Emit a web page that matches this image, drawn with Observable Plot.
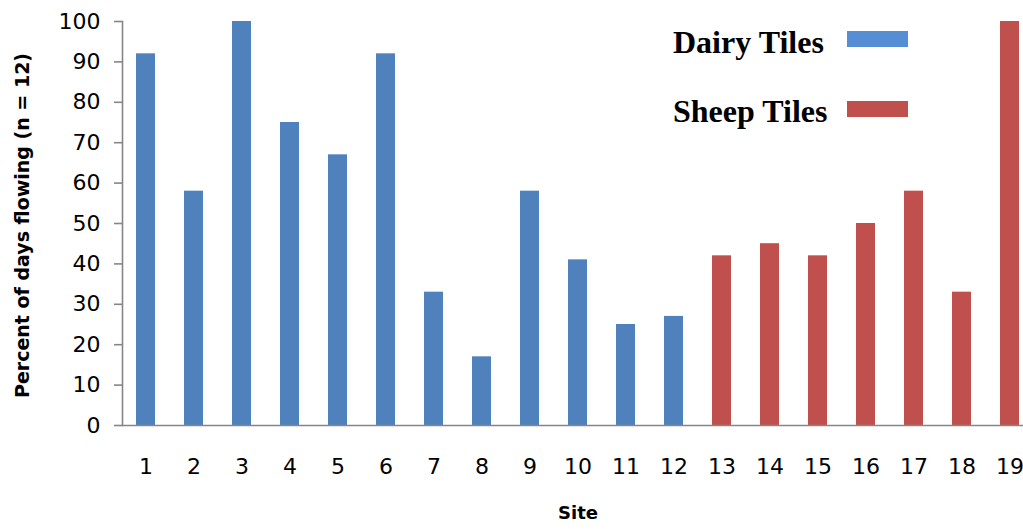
<!DOCTYPE html>
<html><head><meta charset="utf-8">
<script src="https://cdn.jsdelivr.net/npm/d3@7"></script>
<script src="https://cdn.jsdelivr.net/npm/@observablehq/plot@0.6"></script>
<style>
body{margin:0;background:#fff;}
#wrap{position:relative;width:1023px;height:531px;overflow:hidden;}
.leg{position:absolute;left:673px;font:bold 32px "Liberation Serif","Times New Roman",serif;line-height:32px;color:#000;white-space:nowrap;}
.sw{position:absolute;left:847px;width:61px;height:16px;}
</style></head><body><div id="wrap"></div>
<script>
const sites = ["1","2","3","4","5","6","7","8","9","10","11","12","13","14","15","16","17","18","19"];
const values = [92, 58, 100, 75, 67, 92, 33, 17, 58, 41, 25, 27, 42, 45, 42, 50, 58, 33, 100];
const groups = ["Dairy","Dairy","Dairy","Dairy","Dairy","Dairy","Dairy","Dairy","Dairy","Dairy","Dairy","Dairy","Sheep","Sheep","Sheep","Sheep","Sheep","Sheep","Sheep"];
const groupNames = ["Dairy","Sheep"];
const groupLabels = ["Dairy Tiles","Sheep Tiles"];
const groupColors = ["#4F81BD","#C0504D"];
const legendColors = ["#558ED5","#C0504D"];
const yTicks = [0,10,20,30,40,50,60,70,80,90,100];
const yLabel = "Percent of days flowing (n = 12)";
const xLabel = "Site";

const data = sites.map((s,i)=>({site:s, value:values[i], group:groups[i]}));
const axisColor = "#868686";

const chart = Plot.plot({
  width:1023, height:531,
  marginLeft:122, marginTop:21, marginBottom:106, marginRight:0,
  style:{background:"white", fontFamily:"'DejaVu Sans', sans-serif", color:"#000", overflow:"visible"},
  x:{type:"band", domain:sites, range:[122,1034], paddingInner:0.6, paddingOuter:0.3, align:0.5},
  y:{domain:[0,100], range:[425,21]},
  color:{domain:groupNames, range:groupColors},
  marks:[
    Plot.barY(data,{x:"site", y:"value", fill:"group"}),
    Plot.ruleY([0],{stroke:axisColor, strokeWidth:1.6}),
    Plot.frame({anchor:"left", stroke:axisColor, strokeWidth:1.6}),
    Plot.axisY({ticks:yTicks, tickSize:8, tickPadding:14, stroke:axisColor, strokeWidth:1.6, fontSize:22, fill:"#000", label:null}),
    Plot.axisX({tickSize:0, tickPadding:33, fontSize:22, fill:"#000", label:null}),
    Plot.text([yLabel],{frameAnchor:"left", textAnchor:"middle", dx:-100, dy:2, rotate:-90, fontSize:19, fontWeight:"bold", fill:"#000"}),
    Plot.text([xLabel],{frameAnchor:"bottom", dx:5, dy:93, fontSize:18, fontWeight:"bold", fill:"#000"})
  ]
});
const wrap = document.getElementById("wrap");
wrap.appendChild(chart);
const legTops = [26, 95];
const swTops = [31, 101];
groupLabels.forEach((lab,i)=>{
  const t = document.createElement("div");
  t.className="leg"; t.style.top = legTops[i]+"px"; t.textContent = lab;
  wrap.appendChild(t);
  const s = document.createElement("div");
  s.className="sw"; s.style.top = swTops[i]+"px"; s.style.background = legendColors[i];
  wrap.appendChild(s);
});
</script></body></html>
